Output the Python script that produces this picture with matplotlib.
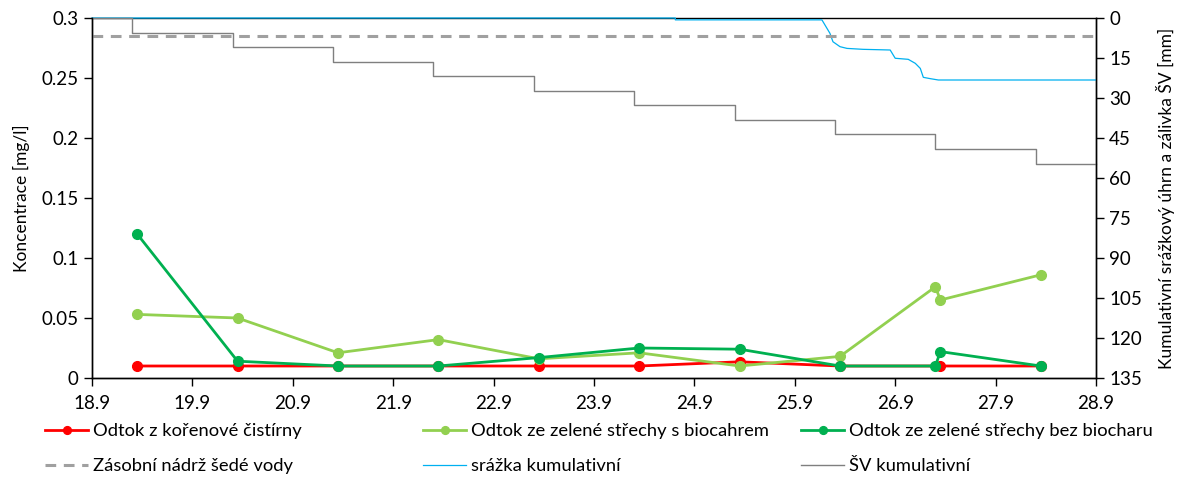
import numpy as np
import matplotlib
matplotlib.use("Agg")
import matplotlib.pyplot as plt

plt.rcParams['font.family'] = ['Lato', 'DejaVu Sans']
plt.rcParams['font.size'] = 12

# Concentration samples (day.fraction of September)
t_red = [19.35, 20.35, 21.35, 22.35, 23.35, 24.35, 25.35, 26.35, 27.35, 28.35]
c_red = [0.010, 0.010, 0.010, 0.010, 0.010, 0.010, 0.0135, 0.010, 0.010, 0.010]

t_green = [19.35, 20.35, 21.35, 22.35, 23.35, 24.35, 25.35, 26.35, 27.30, 27.35, 28.35]
c_light = [0.053, 0.050, 0.021, 0.032, 0.016, 0.021, 0.010, 0.018, 0.076, 0.065, 0.086]
c_dark = [0.120, 0.014, 0.010, 0.010, 0.017, 0.025, 0.024, 0.010, 0.010, 0.022, 0.010]

# Grey water tank (constant)
t_tank = [18.9, 28.9]
c_tank = [0.285, 0.285]

# Cumulative rainfall [mm]
t_rain = [18.9, 24.71, 24.71, 26.17, 26.25, 26.28, 26.35, 26.42, 26.58, 26.85, 26.90,
          27.03, 27.10, 27.15, 27.18, 27.25, 27.33, 28.9]
mm_rain = [0, 0, 0.7, 0.7, 5.75, 8.9, 10.75, 11.4, 11.75, 12.0, 15.1,
           15.5, 17.0, 18.9, 22.25, 22.75, 23.25, 23.25]

# Cumulative grey water irrigation [mm]
t_sv = [18.9, 19.30, 20.30, 21.30, 22.30, 23.30, 24.30, 25.30, 26.30, 27.30, 28.30, 28.9]
mm_sv = [0, 5.5, 11.0, 16.6, 21.9, 27.4, 32.8, 38.4, 43.6, 49.2, 54.9, 54.9]

x_ticks = [18.9, 19.9, 20.9, 21.9, 22.9, 23.9, 24.9, 25.9, 26.9, 27.9, 28.9]
y_ticks = [0, 0.05, 0.1, 0.15, 0.2, 0.25, 0.3]
y_tick_labels = ["0", "0.05", "0.1", "0.15", "0.2", "0.25", "0.3"]
y2_ticks = [0, 15, 30, 45, 60, 75, 90, 105, 120, 135]

fig = plt.figure(figsize=(11.84, 4.86), dpi=100)
ax = fig.add_axes([92 / 1184, 1 - 378 / 486, (1096 - 92) / 1184, 360 / 486])
ax2 = ax.twinx()

red = "#FF0000"
lgreen = "#92D050"
dgreen = "#00B050"

l_red, = ax.plot(t_red, c_red, color=red, lw=2.0, marker="o", ms=7, zorder=3,
                 label="Odtok z kořenové čistírny")
l_light, = ax.plot(t_green, c_light, color=lgreen, lw=2.0, marker="o", ms=7, zorder=4,
                   label="Odtok ze zelené střechy s biocahrem")
l_dark, = ax.plot(t_green, c_dark, color=dgreen, lw=2.0, marker="o", ms=7, zorder=5,
                  label="Odtok ze zelené střechy bez biocharu")
l_tank, = ax.plot(t_tank, c_tank, color="#A0A0A0", lw=2.2, ls=(0, (3.5, 2.5)), zorder=2,
                  label="Zásobní nádrž šedé vody")

l_rain, = ax2.plot(t_rain, mm_rain, color="#00B0F0", lw=0.9, clip_on=False, zorder=3,
                   label="srážka kumulativní")
l_sv, = ax2.plot(t_sv, mm_sv, color="#7F7F7F", lw=1.0, drawstyle="steps-post",
                 clip_on=False, zorder=4, label="ŠV kumulativní")

ax.set_xlim(18.9, 28.9)
ax.set_ylim(0, 0.3)
ax.set_xticks(x_ticks)
ax.set_xticklabels([f"{v:.1f}" for v in x_ticks])
ax.set_yticks(y_ticks)
ax.set_yticklabels(y_tick_labels)
ax.set_ylabel("Koncentrace [mg/l]", labelpad=8, fontsize=12.5)

ax2.set_ylim(135, 0)
ax2.set_yticks(y2_ticks)
ax2.set_ylabel("Kumulativní srážkový úhrn a zálivka ŠV [mm]", labelpad=10, fontsize=12.5)

for a in (ax, ax2):
    for s in a.spines.values():
        s.set_color("black")
        s.set_linewidth(1.0)
    a.tick_params(direction="out", length=6, width=1.0, colors="black", labelsize=13.5)
ax.spines["top"].set_visible(False)
ax.tick_params(axis="x", pad=6)
ax.set_zorder(ax2.get_zorder() + 1)
ax.patch.set_visible(False)

# legend: three columns placed like the original
cols = [(l_red, l_tank), (l_light, l_rain), (l_dark, l_sv)]
x_pos = [45, 423, 801]
for (h1, h2), xp in zip(cols, x_pos):
    fig.legend(handles=[h1, h2], loc="upper left", bbox_to_anchor=(xp / 1184, 1 - 423 / 486),
               frameon=False, fontsize=13.2, handlelength=2.35, handletextpad=0.25,
               labelspacing=1.05, borderaxespad=0, borderpad=0, markerscale=0.8)

fig.savefig("out.png", dpi=100)
